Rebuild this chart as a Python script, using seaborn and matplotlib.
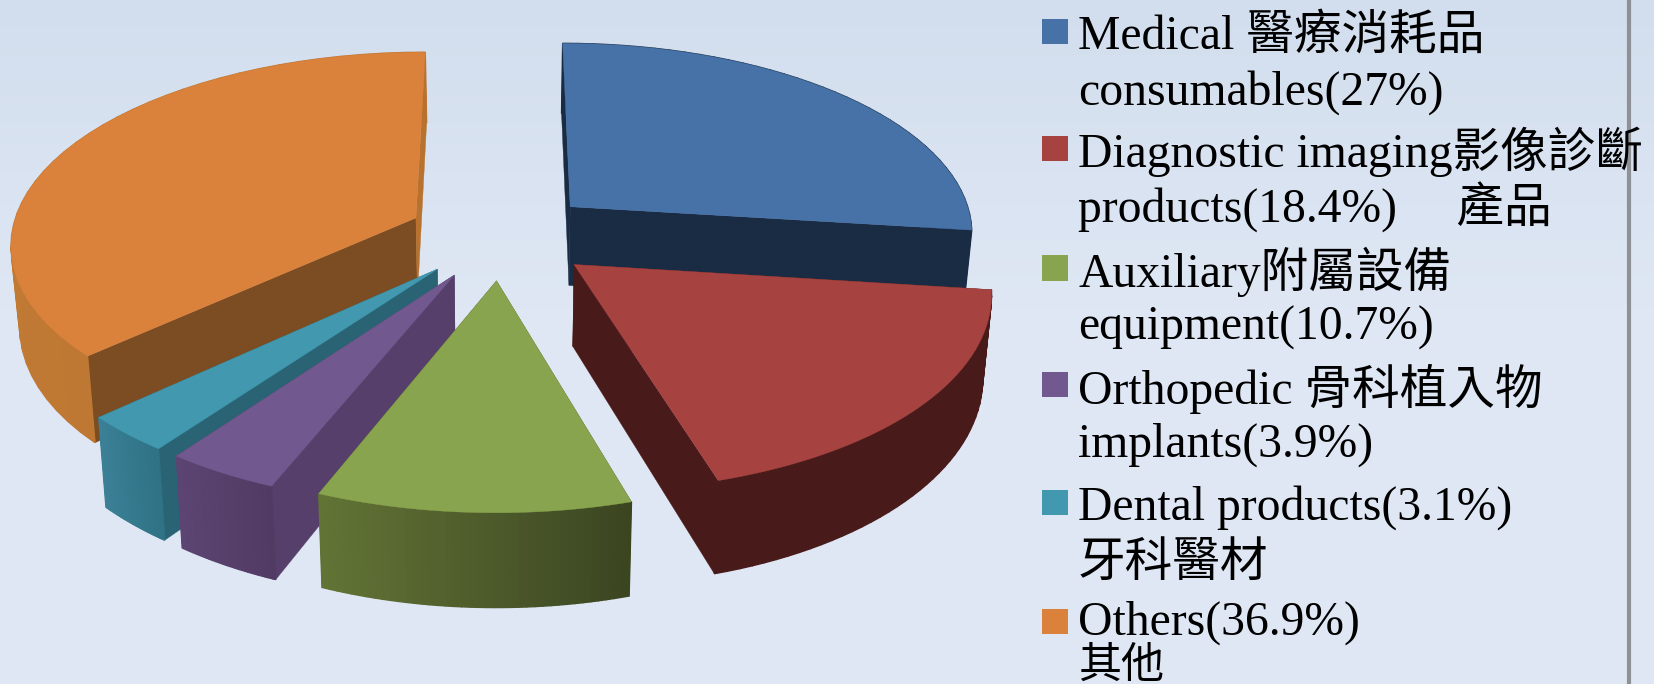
import numpy as np
import matplotlib
matplotlib.use("Agg")
import matplotlib.pyplot as plt
from matplotlib.colors import to_rgb
from matplotlib.patches import Polygon, Rectangle
import seaborn as sns

categories = ["Medical consumables", "Diagnostic imaging products", "Auxiliary equipment",
              "Orthopedic implants", "Dental products", "Others"]
shares = [27, 18.4, 10.7, 3.9, 3.1, 36.9]

legend_lines = [["Medical 醫療消耗品", "consumables(27%)"],
                ["Diagnostic imaging影像診斷", "products(18.4%)     產品"],
                ["Auxiliary附屬設備", "equipment(10.7%)"],
                ["Orthopedic 骨科植入物", "implants(3.9%)"],
                ["Dental products(3.1%)", "牙科醫材"],
                ["Others(36.9%)", "其他"]]

top_colors = ["#4672A8", "#A64340", "#89A44E", "#71588F", "#4198AF", "#DA823C"]
rim_left = ["#1A2C44", "#481B1A", "#627436", "#5C4572", "#3B8096", "#C07A34"]
rim_right = ["#1A2C44", "#481B1A", "#3B4521", "#513B63", "#2F7285", "#B87230"]
start_cut = ["#1A2C44", "#481B1A", "#4A5629", "#563F6B", "#2A6474", "#7C4C22"]
end_cut = ["#1A2C44", "#481B1A", "#4A5629", "#563F6B", "#2A6474", "#B8722E"]

# pie geometry, in the picture's own pixels
cx, cy = 475, 223
radius = 384
squash = 0.47
persp = 0.125
height = 76
shrink = 0.018
explode = 0.232

sns.set_style("white")
plt.rcParams["font.family"] = ["Liberation Serif", "Noto Sans CJK TC"]


def project(x, y, z):
    """x right, y away from the viewer, z 0 on the top face and 1 on the bottom."""
    w = 1 + persp * y
    sx = cx + radius * x * (1 - shrink * z) / w
    sy = cy + (-radius * squash * y + height * z) / w
    return sx, sy


def draw_slice(ax, start, end, top, left, right, cut_a, cut_b, order):
    mid = (start + end) / 2
    ox, oy = explode * np.sin(mid), explode * np.cos(mid)
    ang = np.linspace(start, end, 40)
    xs, ys = ox + np.sin(ang), oy + np.cos(ang)

    # the two flat cuts
    for a, col in ((start, cut_a), (end, cut_b)):
        ex, ey = ox + np.sin(a), oy + np.cos(a)
        pts = [project(ox, oy, 0), project(ex, ey, 0), project(ex, ey, 1), project(ox, oy, 1)]
        ax.add_patch(Polygon(pts, fc=col, ec=col, lw=0.3, zorder=order))

    # rim, shaded strip by strip from screen left to screen right
    c1, c2 = np.array(to_rgb(left)), np.array(to_rgb(right))
    x_lo, x_hi = xs.min(), xs.max()
    for i in range(len(ang) - 1):
        t = ((xs[i] + xs[i + 1]) / 2 - x_lo) / (x_hi - x_lo)
        col = c1 + (c2 - c1) * t
        pts = [project(xs[i], ys[i], 0), project(xs[i + 1], ys[i + 1], 0),
               project(xs[i + 1], ys[i + 1], 1), project(xs[i], ys[i], 1)]
        ax.add_patch(Polygon(pts, fc=col, ec=col, lw=1.0, zorder=order + 0.1))

    outline = [project(ox, oy, 0)] + [project(a, b, 0) for a, b in zip(xs, ys)]
    ax.add_patch(Polygon(outline, fc=top, ec=top, lw=0.3, zorder=order + 0.2))


fig, ax = plt.subplots(figsize=(16.54, 6.84), dpi=100)
fig.subplots_adjust(0, 0, 1, 1)

# background wash
wash = np.ones((100, 1, 3))
wash[:, 0] = np.array(to_rgb("#D2DEEE")) + np.minimum(np.linspace(0, 1, 100) / 0.45, 1)[:, None] * (
    np.array(to_rgb("#DFE7F4")) - np.array(to_rgb("#D2DEEE")))
ax.imshow(wash, extent=(0, 1568, 648, 0), aspect="auto", zorder=0)

angles = np.radians(np.cumsum([0] + shares) * 360 / sum(shares))
paint_order = [0, 5, 4, 3, 2, 1]
for n, i in enumerate(paint_order):
    draw_slice(ax, angles[i], angles[i + 1], top_colors[i], rim_left[i], rim_right[i],
               start_cut[i], end_cut[i], 2 + n)

ax.axvline(1544, color="#8E9297", lw=3, zorder=1)

# legend
first_base = [46, 158, 272, 383, 492, 601]
second_base = [99, 211, 322, 433, 546, 642]
second_size = [34.3, 34.3, 34.3, 34.3, 34.3, 31]
swatch_mid = [30, 141, 254, 364, 476, 589]
for i in range(len(categories)):
    ax.add_patch(Rectangle((988, swatch_mid[i] - 12), 24, 24, fc=top_colors[i], ec="none", zorder=20))
    ax.text(1022, first_base[i], legend_lines[i][0], fontsize=34.3, color="black", va="baseline", zorder=21)
    ax.text(1022, second_base[i], legend_lines[i][1], fontsize=second_size[i], color="black", va="baseline", zorder=21)

ax.set_xlim(0, 1568)
ax.set_ylim(648, 0)
ax.axis("off")
fig.savefig("out.png", dpi=100)
